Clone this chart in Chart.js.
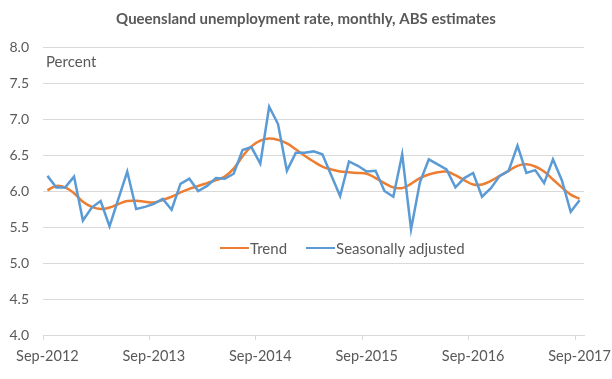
<!DOCTYPE html>
<html>
<head>
<meta charset="utf-8">
<script src="https://cdn.jsdelivr.net/npm/chart.js@4"></script>
<style>
  html, body { margin: 0; padding: 0; background: #fff; }
  #wrap { position: relative; width: 612px; height: 379px; }
  .txt { position: absolute; font: 15px Lato, sans-serif; color: #595959; white-space: nowrap; line-height: 16px; }
  #legenda { display: flex; align-items: center; }
  #legenda .item { display: flex; align-items: center; margin-right: 19px; }
  #legenda .chave { display: inline-block; width: 29px; height: 2.5px; margin-right: 1px; }
</style>
</head>
<body>
<div id="wrap">
  <canvas id="graficoDesemprego" width="612" height="379"></canvas>
  <div class="txt" style="left:46px; top:53px;">Percent</div>
  <div class="txt" id="legenda" style="left:220px; top:240px;"></div>
</div>
<script>
// Meses: Sep-2012 .. Sep-2017
const nomesMes = ["Jan", "Feb", "Mar", "Apr", "May", "Jun", "Jul", "Aug", "Sep", "Oct", "Nov", "Dec"];
const meses = [];
for (let a = 2012; a <= 2017; a++) {
  for (let m = 0; m < 12; m++) {
    if ((a === 2012 && m < 8) || (a === 2017 && m > 8)) continue;
    meses.push(nomesMes[m] + "-" + a);
  }
}
const rotulosX = ["Sep-2012", "Sep-2013", "Sep-2014", "Sep-2015", "Sep-2016", "Sep-2017"];

const tendencia = [
  6.01, 6.07, 6.05, 5.97,
  5.85, 5.78, 5.75, 5.77, 5.82, 5.86, 5.865, 5.85, 5.84, 5.875, 5.92, 5.98,
  6.03, 6.07, 6.11, 6.15, 6.20, 6.31, 6.48, 6.62, 6.70, 6.73, 6.71, 6.66,
  6.58, 6.49, 6.41, 6.34, 6.30, 6.27, 6.26, 6.25, 6.24, 6.18, 6.11, 6.05,
  6.04, 6.10, 6.18, 6.23, 6.26, 6.27, 6.22, 6.15, 6.09, 6.09, 6.14, 6.21,
  6.28, 6.35, 6.37, 6.34, 6.27, 6.16, 6.05, 5.95, 5.89,
];
const ajustada = [
  6.21, 6.05, 6.05, 6.20,
  5.59, 5.77, 5.86, 5.51, 5.89, 6.27, 5.75, 5.78, 5.82, 5.89, 5.74, 6.10,
  6.17, 6.00, 6.07, 6.18, 6.17, 6.24, 6.57, 6.61, 6.38, 7.17, 6.93, 6.28,
  6.53, 6.53, 6.55, 6.51, 6.22, 5.93, 6.41, 6.35, 6.27, 6.28, 6.00, 5.92,
  6.51, 5.47, 6.12, 6.44, 6.37, 6.30, 6.05, 6.18, 6.25, 5.92, 6.04, 6.21,
  6.28, 6.63, 6.25, 6.29, 6.11, 6.44, 6.15, 5.71, 5.87,
];

const corTexto = "#595959";
const corGrade = "#d9d9d9";

const ctx = document.getElementById("graficoDesemprego").getContext("2d");
const grafico = new Chart(ctx, {
  type: "line",
  data: {
    labels: meses,
    datasets: [
      {
        label: "Trend",
        data: tendencia,
        borderColor: "#ED7D31",
        backgroundColor: "#ED7D31",
        borderWidth: 2.5,
        tension: 0.4,
        pointRadius: 0,
        order: 2,
      },
      {
        label: "Seasonally adjusted",
        data: ajustada,
        borderColor: "#5B9BD5",
        backgroundColor: "#5B9BD5",
        borderWidth: 2.5,
        tension: 0,
        pointRadius: 0,
        order: 1,
      },
    ],
  },
  options: {
    responsive: false,
    animation: false,
    layout: { padding: 0 },
    plugins: {
      legend: { display: false },
      tooltip: { enabled: false },
      title: {
        display: true,
        text: "Queensland unemployment rate, monthly, ABS estimates",
        color: corTexto,
        font: { family: "Lato", size: 15, weight: "bold" },
        padding: { top: 10.5, bottom: 18.5 },
      },
    },
    scales: {
      x: {
        offset: true,
        grid: {
          offset: true,
          drawOnChartArea: false,
          drawTicks: true,
          tickLength: 5,
          color: (c) => (c.index % 12 === 0 && c.index < meses.length ? corGrade : "rgba(0,0,0,0)"),
        },
        border: { display: true, color: corGrade },
        ticks: {
          autoSkip: false,
          maxRotation: 0,
          padding: 8,
          color: corTexto,
          font: { family: "Lato", size: 14.5 },
          callback: function (v, i) {
            const r = meses[i];
            return rotulosX.includes(r) ? r : "";
          },
        },
        afterFit: (s) => {
          s.height = 44;
          s.paddingLeft = 0;
          s.paddingRight = 28; // espaço à direita, fora da área do gráfico
        },
      },
      y: {
        min: 4,
        max: 8,
        grid: { color: corGrade, drawTicks: false },
        border: { display: false },
        ticks: {
          stepSize: 0.5,
          padding: 14,
          color: corTexto,
          font: { family: "Lato", size: 14 },
          callback: (v) => v.toFixed(1),
        },
        afterFit: (s) => { s.width = 43; },
      },
    },
  },
});

// legenda em HTML, a partir dos datasets
const legenda = document.getElementById("legenda");
grafico.data.datasets.forEach((d) => {
  const item = document.createElement("span");
  item.className = "item";
  const chave = document.createElement("span");
  chave.className = "chave";
  chave.style.background = d.borderColor;
  item.appendChild(chave);
  item.appendChild(document.createTextNode(d.label));
  legenda.appendChild(item);
});
</script>
</body>
</html>
